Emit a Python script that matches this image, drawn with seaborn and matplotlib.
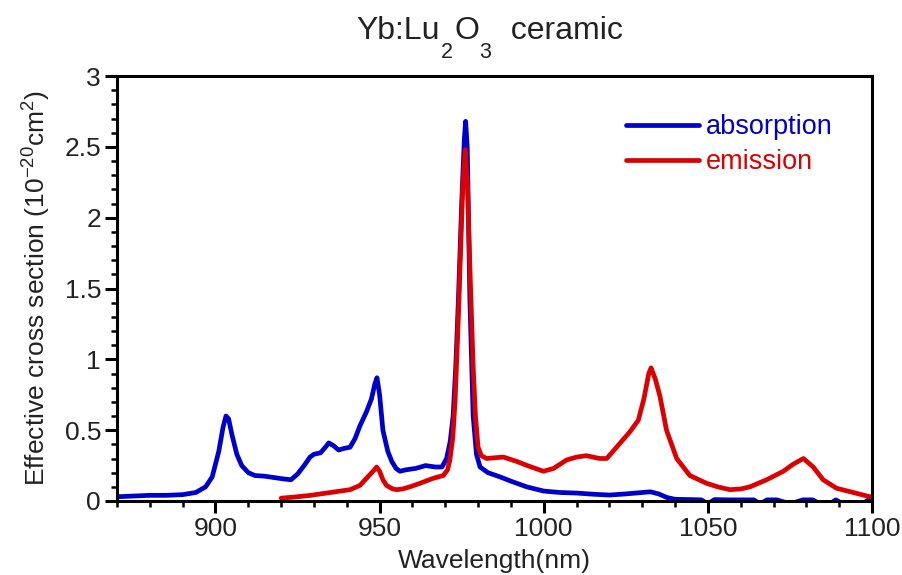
import matplotlib
matplotlib.use("Agg")
import matplotlib.pyplot as plt
import seaborn as sns
import pandas as pd
from matplotlib.ticker import MultipleLocator

# ---- data ----
abs_wl = [870, 875, 880, 885, 890, 894, 897, 899, 901, 902.3, 903.2, 904, 905, 906.5, 908,
          910, 912, 915, 918, 921, 923, 925, 927, 928.8, 930, 932, 933.5, 934.5, 936, 937.5,
          939, 941, 942.5, 944, 946, 947.5, 948.6, 949.2, 950, 951, 952.5, 953.7, 955, 956.2,
          958, 961, 964, 967, 969, 970.4, 971.5, 972.4, 973.2, 974, 975, 975.8, 976.2, 976.7,
          977.5, 978.5, 979.5, 980.6, 983, 986.7, 990, 994.8, 1000, 1005, 1010, 1015, 1020,
          1025, 1030, 1032.5, 1035, 1037.5, 1040, 1045, 1048, 1050, 1052, 1056, 1060, 1064,
          1066, 1068, 1071, 1075, 1079, 1082, 1084, 1087, 1089, 1091, 1094, 1097, 1099, 1100]
abs_sigma = [0.03, 0.035, 0.04, 0.04, 0.045, 0.06, 0.1, 0.17, 0.35, 0.52, 0.6, 0.58, 0.47, 0.33, 0.25,
             0.2, 0.18, 0.175, 0.165, 0.155, 0.15, 0.19, 0.25, 0.31, 0.33, 0.34, 0.38, 0.41, 0.39, 0.36,
             0.37, 0.38, 0.44, 0.53, 0.63, 0.72, 0.83, 0.87, 0.75, 0.5, 0.35, 0.28, 0.23, 0.21,
             0.22, 0.23, 0.25, 0.24, 0.24, 0.3, 0.42, 0.6, 0.95, 1.42, 2.1, 2.55, 2.68, 2.5,
             1.42, 0.6, 0.33, 0.24, 0.2, 0.17, 0.14, 0.1, 0.07, 0.06, 0.056, 0.048, 0.042,
             0.05, 0.06, 0.065, 0.05, 0.025, 0.012, 0.01, 0.008, -0.02, 0.01, 0.008, 0.008, 0.008,
             -0.02, 0.008, 0.008, -0.02, 0.008, 0.008, -0.02, -0.02, 0.008, -0.02, -0.02, -0.02, 0.008, 0.006]

em_wl = [920, 925, 929, 935, 941, 944, 946, 948, 949.1, 950, 951, 952.1, 954, 955.2, 957, 959.2,
         962.3, 966.3, 969.4, 970.7, 971.4, 972.3, 973, 974, 974.5, 975.3, 976.1, 976.8, 977.5,
         978.5, 979.2, 980, 981, 982.6, 985, 987.7, 991.7, 995, 999.9, 1003, 1007, 1010, 1013,
         1017, 1019.2, 1022.2, 1026.3, 1028.8, 1030.5, 1032, 1032.7, 1034, 1035.4, 1037.4,
         1040.5, 1044.5, 1049.6, 1053, 1056.7, 1060, 1062.8, 1067.9, 1073, 1076, 1079.1,
         1082.1, 1085.1, 1089.2, 1095.3, 1099.4, 1100]
em_sigma = [0.02, 0.03, 0.04, 0.06, 0.08, 0.11, 0.16, 0.21, 0.24, 0.21, 0.15, 0.11, 0.085, 0.08, 0.085, 0.1,
            0.125, 0.16, 0.18, 0.22, 0.29, 0.45, 0.71, 1.3, 1.65, 2.2, 2.48, 2.2, 1.65,
            0.95, 0.6, 0.38, 0.32, 0.30, 0.305, 0.31, 0.28, 0.25, 0.21, 0.23, 0.29, 0.31, 0.32,
            0.30, 0.30, 0.38, 0.49, 0.57, 0.72, 0.9, 0.94, 0.86, 0.74, 0.5,
            0.30, 0.18, 0.125, 0.1, 0.08, 0.085, 0.10, 0.15, 0.21, 0.26, 0.30,
            0.24, 0.15, 0.09, 0.054, 0.03, 0.03]

series_labels = ["absorption", "emission"]
# title pieces: (text, is_subscript)
title_parts = [("Yb:Lu", False), ("2", True), ("O", False), ("3", True), ("  ceramic", False)]
x_label = "Wavelength(nm)"
y_label = "Effective cross section (10$^{-20}$cm$^2$)"

# ---- style ----
sns.set_theme(style="ticks")
plt.rcParams["font.family"] = ["Liberation Sans", "DejaVu Sans"]
plt.rcParams["mathtext.fontset"] = "custom"
plt.rcParams["mathtext.rm"] = "Liberation Sans"
plt.rcParams["mathtext.it"] = "Liberation Sans"
plt.rcParams["mathtext.default"] = "regular"

blue = "#0000cc"
red = "#dd0000"
W, H = 902, 575

fig = plt.figure(figsize=(W / 100, H / 100), dpi=100)
ax = fig.add_axes([117 / W, 1 - 501 / H, (872 - 117) / W, (501 - 76) / H])

df_abs = pd.DataFrame({"wl": abs_wl, "sigma": abs_sigma})
df_em = pd.DataFrame({"wl": em_wl, "sigma": em_sigma})

sns.lineplot(data=df_abs, x="wl", y="sigma", ax=ax, color=blue, linewidth=3.4,
             label=series_labels[0], sort=True)
sns.lineplot(data=df_em, x="wl", y="sigma", ax=ax, color=red, linewidth=3.4,
             label=series_labels[1], sort=True)

ax.set_xlim(870, 1100)
ax.set_ylim(0, 3)
ax.xaxis.set_major_locator(MultipleLocator(50))
ax.xaxis.set_minor_locator(MultipleLocator(10))
ax.yaxis.set_minor_locator(MultipleLocator(0.1))
ax.set_yticks([0, 0.5, 1, 1.5, 2, 2.5, 3])
ax.set_yticklabels(["0", "0.5", "1", "1.5", "2", "2.5", "3"])

for s in ax.spines.values():
    s.set_linewidth(2.2)
    s.set_color("black")

ax.tick_params(which="major", direction="out", length=8.5, width=2.2, labelsize=19,
               color="black", labelcolor="#222222", pad=3, top=False, right=False)
ax.tick_params(which="minor", direction="out", length=4, width=1.8, color="black",
               top=False, right=False)

ax.set_xlabel(x_label, fontsize=19, labelpad=6, color="#222222")
ax.set_ylabel(y_label, fontsize=19, labelpad=8, color="#222222")

leg = ax.legend(loc="upper left", bbox_to_anchor=(0.66, 0.935), frameon=False,
                prop={"size": 19.5}, handlelength=2.7, handletextpad=0.25, labelspacing=0.33,
                labelcolor="linecolor", borderaxespad=0)

# ---- title with low-set subscripts, laid out piece by piece ----
fig.canvas.draw()
renderer = fig.canvas.get_renderer()
main_size, sub_size = 23, 15.5
baseline_px = H - 39      # baseline of the main title text (pixels from bottom)
sub_drop_px = 19          # subscript baseline drop
texts = []
x_px = 0.0
for txt, is_sub in title_parts:
    t = fig.text(x_px / W, (baseline_px - (sub_drop_px if is_sub else 0)) / H, txt,
                 fontsize=sub_size if is_sub else main_size, ha="left", va="baseline",
                 color="#222222")
    bb = t.get_window_extent(renderer)
    x_px = bb.x1 + (1.5 if is_sub else 0.5)
    texts.append(t)
total = x_px
start = 490 - total / 2
for t in texts:
    px, py = t.get_position()
    t.set_position((px + start / W, py))

fig.savefig("out.png", dpi=100)
